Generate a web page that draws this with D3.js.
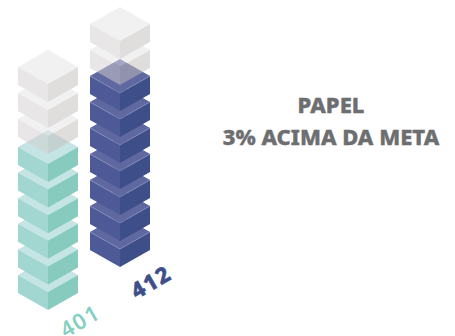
<!DOCTYPE html>
<html><head><meta charset="utf-8">
<style>html,body{margin:0;padding:0;background:#fff;overflow:hidden}svg{display:block}</style>
<script src="https://cdn.jsdelivr.net/npm/d3@7"></script></head>
<body><svg id="c" width="455" height="336"></svg>
<script>
const categories = ["Realizado A", "Realizado B"];
const values = [401, 412];
const filledBlocks = [6, 7];
const ghostBlocks = [3, 2];
const baseTips = [310, 267];
const topTips = [182, 111];
const ghostTopTips = [102, 59];
const columnCenters = [48, 120];
const titleLines = ["PAPEL", "3% ACIMA DA META"];
const palettes = [
  {top:"#c5e4e4", left:"#a2d6d1", right:"#86cbbd", text:"#86cfc4", edge:null},
  {top:"#5f68a0", left:"#4d5a97", right:"#3d4e89", text:"#3d4e89", edge:"#8d94bf"}
];
const ghost = {top:"#e7e5e5", left:"#d3cfcf", right:"#c3bfbd", edge:null};

const svg = d3.select("#c");
const HW = 30, HH = 17, SIDE = 18;
const x = d3.scaleOrdinal().domain(categories).range(columnCenters);
const path = pts => d3.line()(pts);

function block(g, cx, tip, col){
  const f = tip - SIDE, c = f - HH, t = c - HH;
  const b = g.append("g");
  b.append("path").attr("d", path([[cx,t],[cx+HW,c],[cx,f],[cx-HW,c]])+"Z").attr("fill",col.top);
  b.append("path").attr("d", path([[cx-HW,c],[cx,f],[cx,tip],[cx-HW,c+SIDE]])+"Z").attr("fill",col.left);
  b.append("path").attr("d", path([[cx+HW,c],[cx,f],[cx,tip],[cx+HW,c+SIDE]])+"Z").attr("fill",col.right);
  if(col.edge) b.append("path").attr("d", path([[cx-HW,c],[cx,f],[cx+HW,c]]))
    .attr("fill","none").attr("stroke",col.edge).attr("stroke-width",0.6);
}

categories.forEach((cat,i)=>{
  const yF = d3.scaleLinear().domain([0,filledBlocks[i]-1]).range([baseTips[i],topTips[i]]);
  const g = svg.append("g");
  d3.range(filledBlocks[i]).forEach(k=>block(g, x(cat), yF(k), palettes[i]));
  const yG = d3.scaleLinear().domain([ghostBlocks[i]-1,0]).range([ghostTopTips[i],ghostTopTips[i]+26*(ghostBlocks[i]-1)]);
  const gg = svg.append("g").attr("opacity",0.5);
  d3.range(ghostBlocks[i]).forEach(k=>block(gg, x(cat), yG(k), ghost));
});

const labelPos = [[80,321],[151,282]];
const labelWeight = [600,800];
const labelStroke = [0,0.5];
values.forEach((v,i)=>{
  svg.append("text").attr("transform",`translate(${labelPos[i]}) rotate(-30)`)
    .attr("text-anchor","middle").attr("dy","0.36em").attr("font-family","Noto Sans")
    .attr("font-weight",labelWeight[i]).attr("font-size",22).attr("letter-spacing",1.5)
    .attr("fill",palettes[i].text).attr("stroke",palettes[i].text).attr("stroke-width",labelStroke[i]).text(v);
});

const t = svg.append("g").attr("font-family","Noto Sans").attr("font-weight",800)
  .attr("font-size",22).attr("fill","#6d6e70").attr("stroke","#6d6e70").attr("stroke-width",0.4).attr("text-anchor","middle");
titleLines.forEach((s,i)=>t.append("text").attr("x",331).attr("y",[113,145][i]).text(s));
</script></body></html>
